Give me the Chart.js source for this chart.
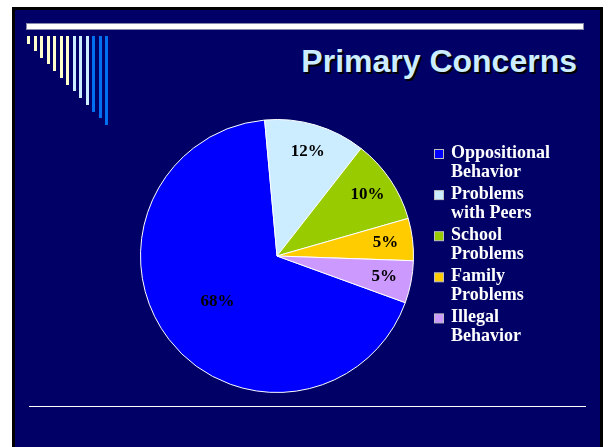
<!DOCTYPE html>
<html>
<head>
<meta charset="utf-8">
<script src="https://cdn.jsdelivr.net/npm/chart.js@4.4.1/dist/chart.umd.min.js"></script>
<style>
  html, body { margin: 0; padding: 0; background: #fff; }
  #page { position: relative; width: 609px; height: 447px; overflow: hidden; background: #fff; }
  #slide {
    position: absolute; left: 12px; top: 7px; width: 585px; height: 450px;
    background: #000066; border: 3px solid #000; border-bottom: none;
  }
  .rule { position: absolute; background: #fff; }
  .tick { position: absolute; top: 36px; width: 3px; }
  #title {
    position: absolute; right: 32px; top: 45px;
    font: bold 32px "Liberation Sans", Arial, sans-serif; line-height: 32px;
    color: #CCECFF; text-shadow: 2px 2px 0 #000; white-space: nowrap;
  }
  #myChart { position: absolute; left: 0; top: 0; }
</style>
</head>
<body>
<div id="page">
  <div id="slide"></div>
  <div class="rule" style="left:27px; top:24px; width:556px; height:5px; box-shadow:0 0 0 1px #8888aa;"></div>
  <div class="rule" style="left:29px; top:406px; width:557px; height:1px;"></div>
  <div id="ticks"></div>
  <div id="title">Primary Concerns</div>
  <canvas id="myChart" width="609" height="447"></canvas>
</div>
<script>
// slide data
const categories = [
    ["Oppositional", "Behavior"],
    ["Problems", "with Peers"],
    ["School", "Problems"],
    ["Family", "Problems"],
    ["Illegal", "Behavior"]
];
const shares = [68, 12, 10, 5, 5];

const sliceColors = ['#0000FF', '#CCECFF', '#99CC00', '#FFCC00', '#CC99FF'];

// template decoration in the top left corner
var ticks = document.getElementById("ticks");
for (var i = 0; i < 13; i++) {
    var d = document.createElement("div");
    d.className = "tick";
    d.style.left = (27 + i * 6.5) + "px";
    d.style.height = (8 + i * 6.75) + "px";
    d.style.background = i < 7 ? '#FFFFCC' : (i < 10 ? '#CCECFF' : '#0070F0');
    ticks.appendChild(d);
}

const pieLabels = {
    id: 'pieLabels',
    afterDatasetsDraw(chart) {
        const ctx = chart.ctx;
        const values = chart.data.datasets[0].data;
        ctx.save();
        ctx.font = 'bold 17px "Liberation Serif", serif';
        ctx.fillStyle = '#000';
        ctx.textAlign = 'center';
        ctx.textBaseline = 'middle';
        chart.getDatasetMeta(0).data.forEach((arc, i) => {
            const p = arc.getProps(['x', 'y', 'startAngle', 'endAngle', 'outerRadius'], true);
            const mid = (p.startAngle + p.endAngle) / 2;
            const r = p.outerRadius * (values[i] > 50 ? 0.55 : 0.8);
            ctx.fillText(values[i] + '%', p.x + Math.cos(mid) * r, p.y + Math.sin(mid) * r);
        });
        ctx.restore();
    }
};

// legend with two-line entries, drawn by hand
const sideLegend = {
    id: 'sideLegend',
    afterDraw(chart) {
        const ctx = chart.ctx;
        const labels = chart.data.labels;
        const colors = chart.data.datasets[0].backgroundColor;
        ctx.save();
        ctx.font = 'bold 18px "Liberation Serif", serif';
        ctx.textAlign = 'left';
        ctx.textBaseline = 'alphabetic';
        labels.forEach((lines, i) => {
            const base = 158 + i * 41.1;
            ctx.fillStyle = colors[i];
            ctx.fillRect(434.5, base - 8.5, 9, 9);
            ctx.strokeStyle = '#C0C0C0';
            ctx.lineWidth = 1;
            ctx.strokeRect(434.5, base - 8.5, 9, 9);
            ctx.fillStyle = '#FFFFFF';
            lines.forEach((t, j) => ctx.fillText(t, 451, base + j * 18.5));
        });
        ctx.restore();
    }
};

function createChart() {
    var ctx = document.getElementById("myChart").getContext("2d");
    const config = {
        type: 'pie',
        data: {
            labels: categories,
            datasets: [{
                data: shares,
                backgroundColor: sliceColors,
                borderColor: '#FFFFFF',
                borderWidth: 1
            }]
        },
        options: {
            responsive: false,
            animation: false,
            rotation: 110,
            layout: {
                padding: { left: 140, right: 195, top: 119, bottom: 54 }
            },
            plugins: {
                legend: { display: false },
                tooltip: { enabled: false }
            }
        },
        plugins: [pieLabels, sideLegend]
    };
    new Chart(ctx, config);
}

createChart();
</script>
</body>
</html>
